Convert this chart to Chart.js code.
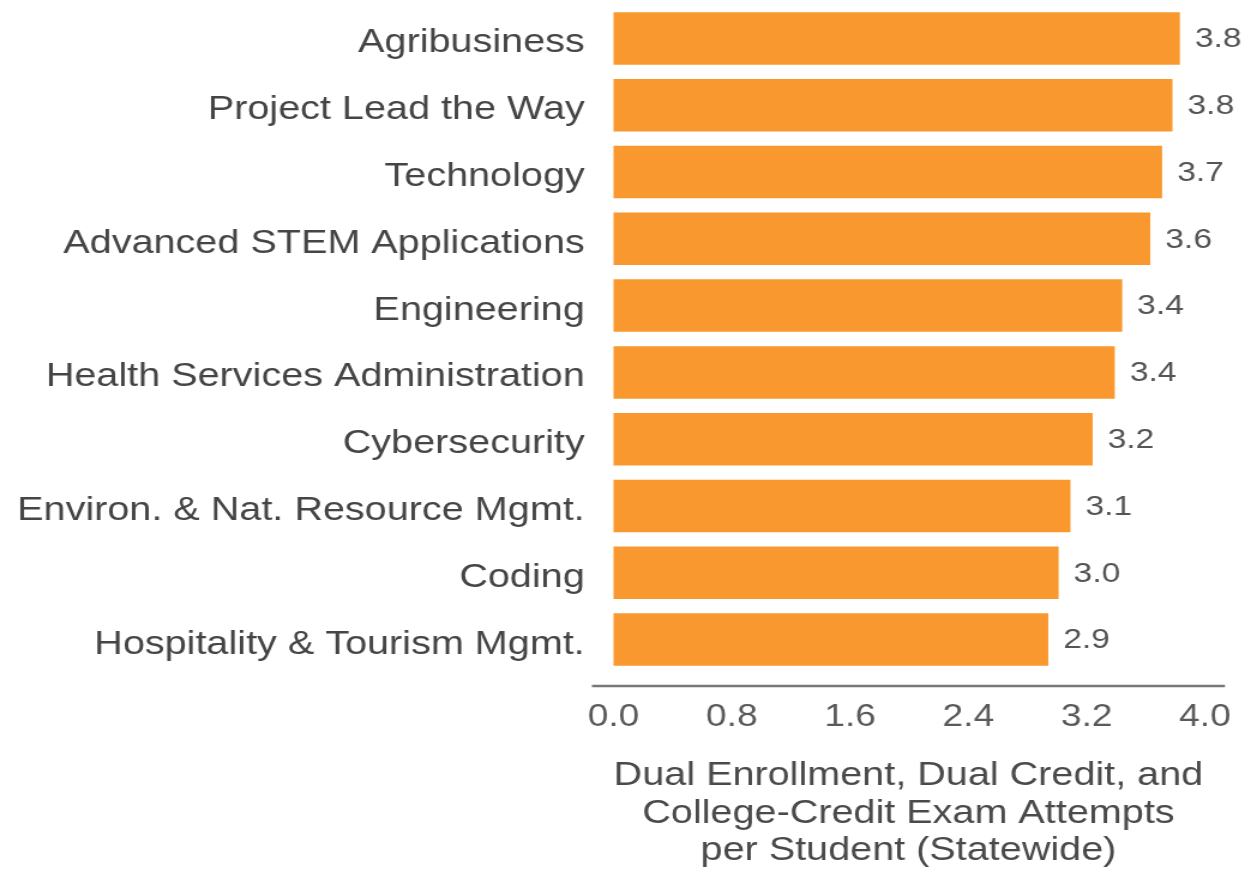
<!DOCTYPE html>
<html>
<head>
<meta charset="utf-8">
<script src="https://cdn.jsdelivr.net/npm/chart.js@4"></script>
<style>
  html, body { margin: 0; padding: 0; background: #ffffff; overflow: hidden; }
  #c { display: block; }
</style>
</head>
<body>
<canvas id="c" width="1043" height="878" style="width:1251px;height:878px;"></canvas>
<script>
const categories = [
  "Agribusiness",
  "Project Lead the Way",
  "Technology",
  "Advanced STEM Applications",
  "Engineering",
  "Health Services Administration",
  "Cybersecurity",
  "Environ. & Nat. Resource Mgmt.",
  "Coding",
  "Hospitality & Tourism Mgmt."
];
const values = [3.83, 3.78, 3.71, 3.63, 3.44, 3.39, 3.24, 3.09, 3.01, 2.94];
const valueLabels = ["3.8", "3.8", "3.7", "3.6", "3.4", "3.4", "3.2", "3.1", "3.0", "2.9"];
const xTicks = [0.0, 0.8, 1.6, 2.4, 3.2, 4.0];
const xTitle = ["Dual Enrollment, Dual Credit, and", "College-Credit Exam Attempts", "per Student (Statewide)"];

const FONT = "'Liberation Sans', Arial, Helvetica, sans-serif";

const valueLabelPlugin = {
  id: 'valueLabels',
  afterDatasetsDraw(chart) {
    const ctx = chart.ctx;
    const meta = chart.getDatasetMeta(0);
    ctx.save();
    ctx.font = "28px " + FONT;
    ctx.fillStyle = "#555555";
    ctx.textAlign = "left";
    ctx.textBaseline = "middle";
    meta.data.forEach((bar, i) => {
      ctx.fillText(valueLabels[i], bar.x + 12.5, bar.y + 1);
    });
    ctx.restore();
  }
};

const axisLinePlugin = {
  id: 'axisLine',
  afterDraw(chart) {
    const ctx = chart.ctx;
    const a = chart.chartArea;
    const y = a.bottom + 13;
    ctx.save();
    ctx.strokeStyle = "#777777";
    ctx.lineWidth = 2.5;
    ctx.beginPath();
    ctx.moveTo(a.left, y);
    ctx.lineTo(a.right, y);
    ctx.stroke();
    ctx.restore();
  }
};

const chart = new Chart(document.getElementById('c'), {
  type: 'bar',
  data: {
    labels: categories,
    datasets: [{
      data: values,
      backgroundColor: "#F9982F",
      borderWidth: 0,
      barPercentage: 0.786,
      categoryPercentage: 1.0
    }]
  },
  options: {
    indexAxis: 'y',
    responsive: false,
    animation: false,
    devicePixelRatio: 1,
    layout: { padding: { top: 5, right: 21.7, bottom: 0, left: 0 } },
    plugins: {
      legend: { display: false },
      tooltip: { enabled: false }
    },
    scales: {
      x: {
        min: -0.146,
        max: 4.135,
        afterBuildTicks(scale) {
          scale.ticks = xTicks.map(v => ({ value: v }));
        },
        afterFit(scale) {
          scale.height = 205;
          scale.paddingLeft = 0;
          scale.paddingRight = 0;
        },
        grid: { display: false, drawTicks: false },
        border: { display: false },
        ticks: {
          font: { family: FONT, size: 31 },
          color: "#5a5a5a",
          padding: 26,
          maxRotation: 0,
          autoSkip: false,
          callback: (v) => Number(v).toFixed(1)
        },
        title: {
          display: true,
          text: xTitle,
          font: { family: FONT, size: 33, lineHeight: 1.14 },
          color: "#4a4a4a",
          padding: { top: 0, bottom: 8 }
        }
      },
      y: {
        afterFit(scale) {
          scale.width = 493.5;
          scale.paddingTop = 0;
          scale.paddingBottom = 0;
        },
        grid: { display: false, drawTicks: false },
        border: { display: false },
        ticks: {
          font: { family: FONT, size: 33 },
          color: "#454545",
          padding: 6,
          labelOffset: 5,
          autoSkip: false
        }
      }
    }
  },
  plugins: [valueLabelPlugin, axisLinePlugin]
});
chart.canvas.style.width = '1251px';
chart.canvas.style.height = '878px';
</script>
</body>
</html>
